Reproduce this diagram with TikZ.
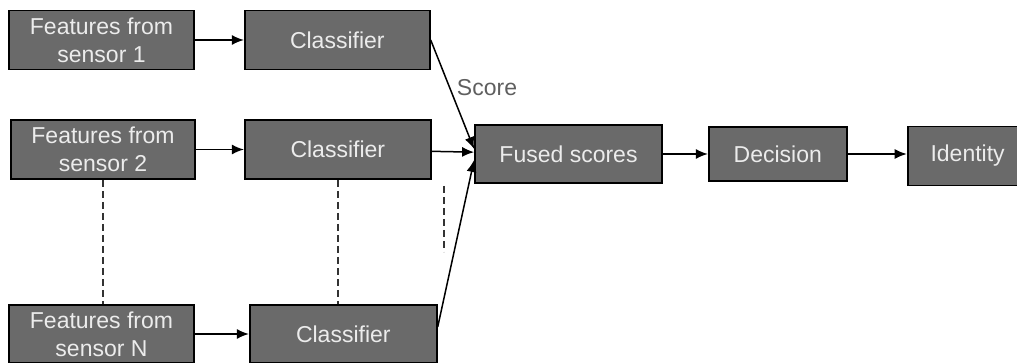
\documentclass[tikz,border=0pt]{standalone}
\usepackage{fontspec}
\setmainfont{Liberation Sans}
\usetikzlibrary{positioning,arrows.meta}

\definecolor{boxgray}{RGB}{106,106,106}
\definecolor{boxtext}{RGB}{236,236,236}
\definecolor{lblgray}{RGB}{95,95,95}

\begin{document}
\begin{tikzpicture}[
    x=1pt, y=1pt,
    >={Latex[length=12pt,width=10pt]},
    block/.style={draw=black, line width=1.8pt, fill=boxgray, text=boxtext,
                  align=center, inner sep=0pt, minimum height=59pt,
                  font=\fontsize{23}{28}\selectfont},
    link/.style={line width=1.5pt},
    gap/.style={line width=1.5pt, draw=black!80, dash pattern=on 7pt off 4pt}
  ]
  \useasboundingbox (0,0) rectangle (1017,-363);

  \node[block, minimum width=185pt] (f1) at (101.5,-40) {Features from\\sensor 1};
  \node[block, minimum width=185pt] (c1) [right=49pt of f1] {Classifier};
  \node[block, minimum width=184pt] (f2) at (103,-149.5) {Features from\\sensor 2};
  \node[block, minimum width=186pt] (c2) [right=48pt of f2] {Classifier};
  \node[block, minimum width=185pt, minimum height=58pt] (fN) at (101.5,-334) {Features from\\sensor N};
  \node[block, minimum width=187pt, minimum height=58pt] (cN) [right=54pt of fN] {Classifier};

  \node[block, minimum width=187pt, minimum height=58pt] (fused) at (568.5,-154) {Fused scores};
  \node[block, minimum width=138pt, minimum height=54pt] (dec) [right=45pt of fused] {Decision};
  \node[block, minimum width=120pt, minimum height=59pt] (id) [right=59pt of dec, yshift=-2pt] {Identity};

  \node[text=lblgray, font=\fontsize{23}{28}\selectfont] (score) at (487,-88) {Score};

  % sensors to classifiers
  \draw [->, link] (f1) to (c1);
  \draw [->, link] (f2) to (c2);
  \draw [->, link] (fN) to (cN);

  % scores into the fusion block
  \draw [->, link] (c1.east) to ([yshift=5pt]fused.west);
  \draw [->, link] (c2) to (fused);
  \draw [->, link] ([yshift=7pt]cN.east) to ([yshift=-6pt]fused.west);

  \draw [->, link] (fused) to (dec);
  \draw [->, link] (dec.east) to (id.west |- dec.east);

  % the omitted sensors in between
  \draw [gap] (f2.south) to (f2.south |- fN.north);
  \draw [gap] (c2.south) to (c2.south |- cN.north);
  \coordinate (gt) at (444,-186);
  \coordinate (gb) at (444,-252);
  \draw [gap] (gt) to (gb);
\end{tikzpicture}
\end{document}
